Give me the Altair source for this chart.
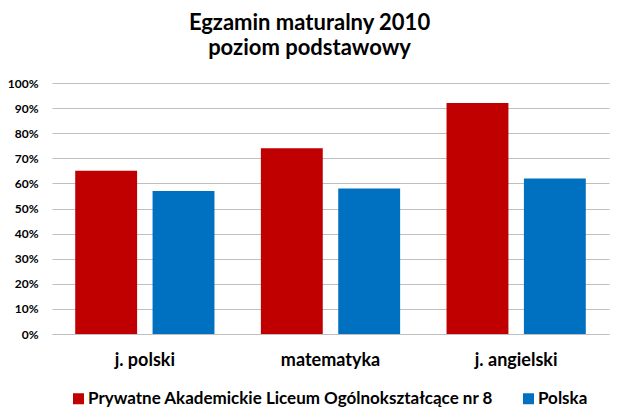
import altair as alt
import pandas as pd

categories = ["j. polski", "matematyka", "j. angielski"]
series_names = ["Prywatne Akademickie Liceum Ogólnokształcące nr 8", "Polska"]
school_values = [0.65, 0.74, 0.92]
polska_values = [0.57, 0.58, 0.62]
series_colors = ["#C00000", "#0070C0"]

rows = []
for c, a, b in zip(categories, school_values, polska_values):
    rows.append({"kategoria": c, "seria": series_names[0], "wartosc": a})
    rows.append({"kategoria": c, "seria": series_names[1], "wartosc": b})
df = pd.DataFrame(rows)

FONT = "Lato"

chart = alt.Chart(df).mark_bar().encode(
    x=alt.X("kategoria:N", sort=categories,
            scale=alt.Scale(paddingInner=0.25, paddingOuter=0.125),
            axis=alt.Axis(title=None, labelAngle=0, ticks=False, domain=True,
                          domainColor="#BFBFBF", labelFont=FONT, labelFontWeight="bold",
                          labelFontSize=18, labelColor="#000000", labelPadding=17)),
    xOffset=alt.XOffset("seria:N", sort=series_names,
                        scale=alt.Scale(paddingInner=0.2, paddingOuter=0)),
    y=alt.Y("wartosc:Q",
            scale=alt.Scale(domain=[0, 1], nice=False),
            axis=alt.Axis(title=None, format=".0%", values=[i / 10 for i in range(11)],
                          ticks=False, domain=False, grid=True, gridColor="#BFBFBF",
                          labelFont=FONT, labelFontWeight="bold", labelFontSize=12,
                          labelColor="#000000", labelPadding=14)),
    color=alt.Color("seria:N", sort=series_names,
                    scale=alt.Scale(domain=series_names, range=series_colors),
                    legend=alt.Legend(title=None, orient="none", direction="horizontal",
                                      legendX=18, legendY=307, symbolType="square",
                                      symbolSize=121, symbolStrokeWidth=0,
                                      labelFont=FONT, labelFontWeight="bold",
                                      labelFontSize=17, labelColor="#000000",
                                      labelLimit=600, columnPadding=26,
                                      labelOffset=1, padding=0)),
).properties(
    width=557,
    height=251,
    title=alt.TitleParams(["Egzamin maturalny 2010", "poziom podstawowy"],
                          font=FONT, fontWeight="bold", fontSize=22, color="#000000",
                          anchor="middle", dx=-21, offset=17, lineHeight=25),
    autosize=alt.AutoSizeParams(type="none"),
    padding={"left": 44, "top": 75, "right": 3, "bottom": 80},
).configure_view(stroke=None).configure_axis(gridWidth=1)

chart.save("out.html", embed_options={"renderer": "svg", "actions": False})
